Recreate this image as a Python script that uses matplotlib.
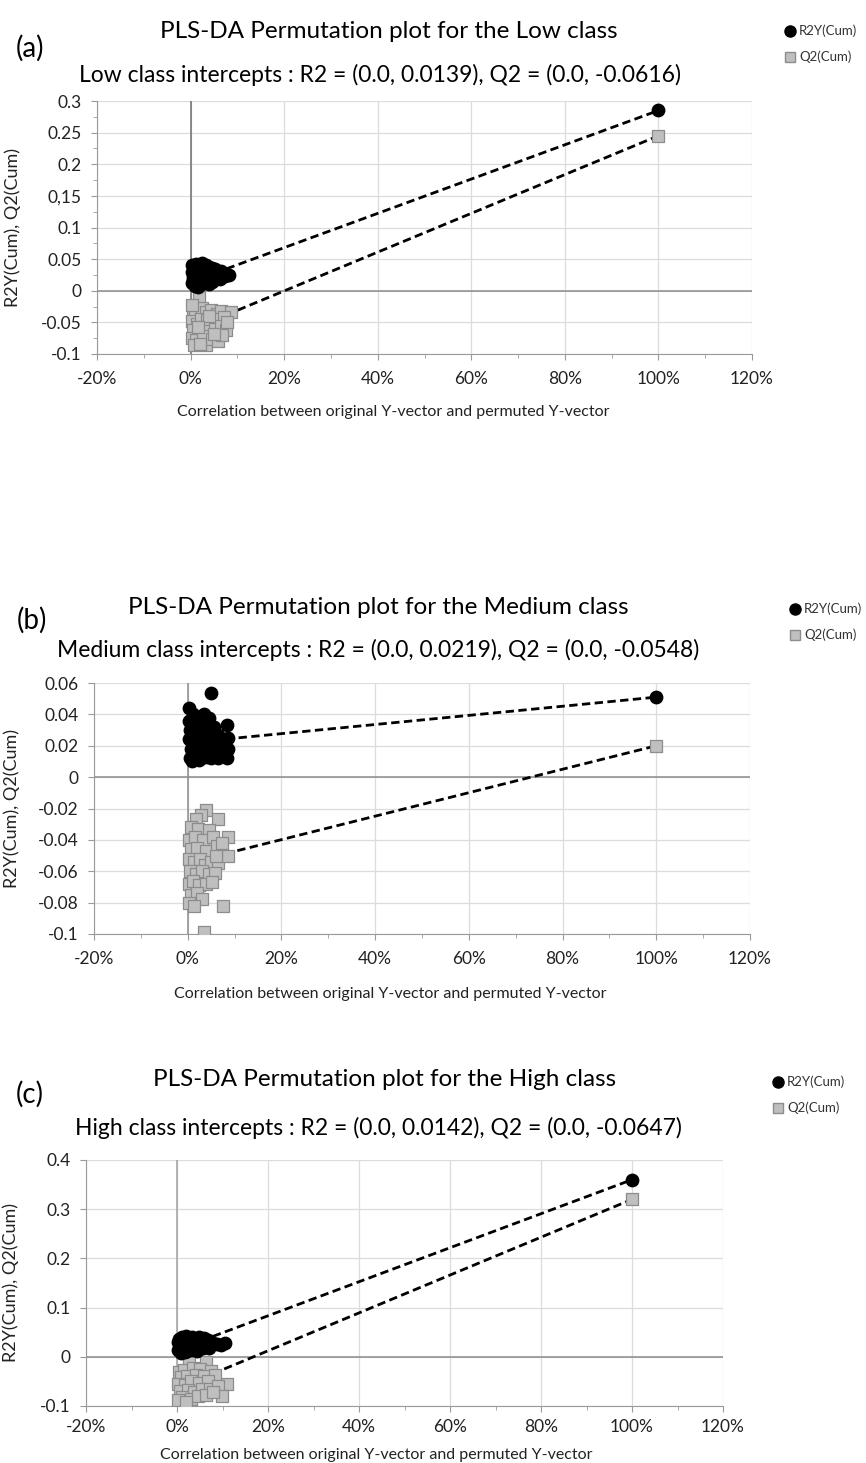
import matplotlib
matplotlib.use('agg')
import matplotlib.pyplot as plt
from matplotlib.lines import Line2D
from matplotlib.ticker import MultipleLocator

plt.rcParams['font.family'] = ['Lato', 'DejaVu Sans']

W, H = 866, 1463

panel_tags = ['(a)', '(b)', '(c)']
class_names = ['Low', 'Medium', 'High']
r2_intercepts = [0.0139, 0.0219, 0.0142]
q2_intercepts = [-0.0616, -0.0548, -0.0647]
r2_original = [0.285, 0.051, 0.36]
q2_original = [0.245, 0.020, 0.32]

x_ticks = [-20, 0, 20, 40, 60, 80, 100, 120]
x_tick_labels = ['-20%', '0%', '20%', '40%', '60%', '80%', '100%', '120%']

a_y_ticks = [-0.1, -0.05, 0, 0.05, 0.1, 0.15, 0.2, 0.25, 0.3]
a_y_tick_labels = ['-0.1', '-0.05', '0', '0.05', '0.1', '0,15', '0.2', '0.25', '0.3']
b_y_ticks = [-0.1, -0.08, -0.06, -0.04, -0.02, 0, 0.02, 0.04, 0.06]
b_y_tick_labels = ['-0.1', '-0.08', '-0.06', '-0.04', '-0.02', '0', '0.02', '0.04', '0.06']
c_y_ticks = [-0.1, 0, 0.1, 0.2, 0.3, 0.4]
c_y_tick_labels = ['-0.1', '0', '0.1', '0.2', '0.3', '0.4']

# permuted models, correlation in % and R2Y / Q2 values
a_r2_x = [0.3, 0.5, 0.4, 0.8, 1.2, 1.5, 1.9, 2.3, 2.6, 3.0, 3.4, 3.8, 4.2, 4.6, 5.0, 5.5, 6.0, 6.6, 7.3, 8.2,
          0.9, 1.6, 2.1, 2.9, 3.6, 4.5, 5.2, 6.2, 0.2, 1.1, 2.5, 3.2, 4.0, 0.6, 1.3, 2.0, 2.8, 3.9, 4.8, 7.0]
a_r2_y = [0.012, 0.022, 0.030, 0.036, 0.016, 0.028, 0.038, 0.010, 0.024, 0.034, 0.041, 0.018, 0.030, 0.036,
          0.022, 0.030, 0.026, 0.032, 0.024, 0.025, 0.008, 0.006, 0.018, 0.012, 0.026, 0.014, 0.035, 0.018,
          0.040, 0.042, 0.044, 0.020, 0.010, 0.017, 0.032, 0.026, 0.040, 0.038, 0.028, 0.028]
a_q2_x = [1.7, 0.5, 1.0, 2.5, 3.2, 4.4, 5.6, 6.6, 8.7, 0.3, 1.4, 2.2, 3.6, 4.8, 6.0, 7.2, 0.6, 1.8, 2.9,
          4.0, 5.2, 6.4, 7.5, 0.2, 1.2, 2.6, 3.4, 4.6, 5.8, 0.8, 2.0, 6.8, 3.9, 0.4, 5.0, 1.5, 7.8]
a_q2_y = [-0.010, -0.030, -0.038, -0.028, -0.034, -0.030, -0.036, -0.032, -0.034, -0.048, -0.052, -0.044,
          -0.046, -0.050, -0.045, -0.041, -0.062, -0.066, -0.058, -0.064, -0.060, -0.056, -0.062, -0.074,
          -0.078, -0.072, -0.085, -0.076, -0.080, -0.086, -0.084, -0.070, -0.040, -0.022, -0.068, -0.058,
          -0.050]

b_r2_x = [0.3, 0.2, 0.5, 0.3, 0.6, 0.4, 1.2, 1.5, 1.1, 1.8, 1.4, 2.3, 2.6, 2.1, 2.8, 2.5, 3.2, 3.5, 3.0,
          3.8, 4.9, 4.6, 4.3, 4.9, 4.4, 5.0, 5.6, 5.9, 5.5, 6.4, 6.8, 6.5, 7.3, 7.6, 8.3, 8.6, 8.5, 8.4,
          1.0, 3.4]
b_r2_y = [0.044, 0.036, 0.030, 0.024, 0.018, 0.012, 0.040, 0.032, 0.026, 0.020, 0.014, 0.036, 0.028, 0.022,
          0.016, 0.011, 0.034, 0.026, 0.019, 0.013, 0.0536, 0.038, 0.030, 0.024, 0.018, 0.012, 0.032, 0.022,
          0.015, 0.027, 0.018, 0.012, 0.024, 0.014, 0.033, 0.025, 0.018, 0.012, 0.010, 0.040]
b_q2_x = [3.8, 2.9, 1.7, 6.5, 0.6, 2.3, 4.6, 0.3, 1.5, 3.2, 5.4, 8.6, 0.8, 2.0, 4.0, 6.2, 7.4, 0.2, 1.3,
          2.7, 3.6, 5.0, 6.4, 8.6, 0.5, 1.8, 3.0, 4.5, 5.8, 0.3, 1.2, 2.4, 3.8, 5.2, 0.7, 1.9, 3.1, 0.2,
          1.4, 7.5, 3.5, 6.0]
b_q2_y = [-0.021, -0.024, -0.027, -0.027, -0.032, -0.033, -0.034, -0.040, -0.038, -0.040, -0.038, -0.038,
          -0.046, -0.045, -0.047, -0.044, -0.042, -0.052, -0.054, -0.052, -0.056, -0.054, -0.055, -0.050,
          -0.060, -0.062, -0.060, -0.062, -0.061, -0.068, -0.066, -0.069, -0.068, -0.067, -0.075, -0.074,
          -0.078, -0.080, -0.082, -0.082, -0.099, -0.050]

c_r2_x = [0.3, 0.5, 0.4, 1.0, 1.2, 1.6, 2.0, 2.3, 2.6, 3.0, 3.4, 3.8, 4.2, 4.7, 5.1, 5.6, 6.2, 6.8, 7.4,
          8.0, 8.8, 9.6, 10.6, 0.9, 1.8, 3.2, 4.5, 5.8, 0.2, 1.4, 2.8, 3.6, 4.9, 7.0, 6.0, 0.7]
c_r2_y = [0.014, 0.026, 0.036, 0.040, 0.020, 0.030, 0.042, 0.012, 0.024, 0.035, 0.040, 0.018, 0.030, 0.034,
          0.022, 0.031, 0.026, 0.034, 0.024, 0.029, 0.026, 0.024, 0.028, 0.008, 0.010, 0.014, 0.012, 0.018,
          0.030, 0.034, 0.030, 0.026, 0.040, 0.018, 0.038, 0.020]
c_q2_x = [2.6, 6.4, 0.4, 1.5, 3.5, 5.0, 7.5, 0.8, 2.2, 4.2, 6.0, 8.4, 0.3, 1.8, 3.0, 4.8, 6.8, 11.0, 0.6,
          2.4, 3.8, 5.5, 7.2, 9.0, 1.2, 3.0, 4.6, 6.3, 9.8, 0.2, 2.0, 8.0]
c_q2_y = [-0.008, -0.010, -0.030, -0.026, -0.022, -0.024, -0.028, -0.042, -0.040, -0.036, -0.040, -0.038,
          -0.055, -0.058, -0.050, -0.054, -0.050, -0.055, -0.070, -0.068, -0.072, -0.066, -0.065, -0.060,
          -0.082, -0.085, -0.080, -0.078, -0.080, -0.088, -0.092, -0.072]

fig = plt.figure(figsize=(W / 100, H / 100), dpi=100)


def box(left, top, right, bottom):
    return [left / W, 1 - bottom / H, (right - left) / W, (bottom - top) / H]


def ftext(x, y, s, **kw):
    fig.text(x / W, 1 - y / H, s, **kw)


def legend(x, y):
    fig.add_artist(Line2D([x / W], [1 - y / H], marker='o', color='black', markersize=8,
                          linestyle='none', transform=fig.transFigure))
    fig.add_artist(Line2D([x / W], [1 - (y + 26) / H], marker='s', markerfacecolor='#bfbfbf',
                          markeredgecolor='#8c8c8c', markersize=7, linestyle='none',
                          transform=fig.transFigure))
    ftext(x + 9, y, 'R2Y(Cum)', fontsize=9.5, va='center', color='#333333')
    ftext(x + 9, y + 26, 'Q2(Cum)', fontsize=9.5, va='center', color='#333333')


def draw_panel(i, rect, r2x, r2y, q2x, q2y, yticks, ylabels, ylim, yminor, zero_color,
               ylab_x, xlab_pos, xpad):
    ax = fig.add_axes(rect)
    ax.set_xlim(-20, 120)
    ax.set_ylim(*ylim)
    ax.set_xticks(x_ticks)
    ax.set_xticklabels(x_tick_labels)
    ax.set_yticks(yticks)
    ax.set_yticklabels(ylabels)
    ax.xaxis.set_minor_locator(MultipleLocator(10))
    if yminor:
        ax.yaxis.set_minor_locator(MultipleLocator(yminor))
    ax.grid(True, which='major', color='#dcdcdc', linewidth=0.9)
    ax.set_axisbelow(True)
    for s in ['top', 'right']:
        ax.spines[s].set_visible(False)
    for s in ['left', 'bottom']:
        ax.spines[s].set_color('#9a9a9a')
    ax.tick_params(which='both', direction='out', color='#9a9a9a', labelsize=12.5, labelcolor='#222222')
    ax.tick_params(which='major', length=4)
    ax.tick_params(which='minor', length=3)
    ax.tick_params(axis='y', pad=7)
    ax.tick_params(axis='x', pad=xpad)
    ax.axhline(0, color='#8c8c8c', linewidth=1.1, zorder=1)
    ax.axvline(0, color=zero_color, linewidth=1.1, zorder=1)

    ax.plot([0, 100], [r2_intercepts[i], r2_original[i]], color='black', linestyle=(0, (3, 1.6)),
            linewidth=2, zorder=2)
    ax.plot([0, 100], [q2_intercepts[i], q2_original[i]], color='black', linestyle=(0, (3, 1.6)),
            linewidth=2, zorder=2)
    ax.scatter(q2x + [100], q2y + [q2_original[i]], marker='s', s=70, facecolor='#bfbfbf',
               edgecolor='#8c8c8c', linewidth=0.9, zorder=3)
    ax.scatter(r2x + [100], r2y + [r2_original[i]], marker='o', s=80, color='black', zorder=4)

    left = rect[0] * W
    width = rect[2] * W
    height = rect[3] * H
    bottom = (1 - rect[1]) * H
    ax.set_ylabel('R2Y(Cum), Q2(Cum)', fontsize=13, color='#222222')
    ax.yaxis.set_label_coords((ylab_x - left) / width, 0.5)
    ax.set_xlabel('Correlation between original Y-vector and permuted Y-vector', fontsize=11.5,
                  color='#222222')
    ax.xaxis.set_label_coords((xlab_pos[0] - left) / width, (bottom - xlab_pos[1]) / height)
    return ax


# (a) Low
draw_panel(0, box(97, 101, 752, 354), a_r2_x, a_r2_y, a_q2_x, a_q2_y,
           a_y_ticks, a_y_tick_labels, (-0.1, 0.3), 0.025, '#6e6e6e', 21, (393, 405), 8)
ftext(30, 48, panel_tags[0], fontsize=20, ha='center', va='center')
ftext(389, 32, 'PLS-DA Permutation plot for the ' + class_names[0] + ' class', fontsize=17.5,
      ha='center', va='center')
ftext(380, 75, 'Low class intercepts : R2 = (0.0, 0.0139), Q2 = (0.0, -0.0616)', fontsize=16.5,
      ha='center', va='center')
legend(790, 31)

# (b) Medium
draw_panel(1, box(94, 683, 750, 934), b_r2_x, b_r2_y, b_q2_x, b_q2_y,
           b_y_ticks, b_y_tick_labels, (-0.1, 0.06), None, '#8c8c8c', 20, (390, 987), 8)
ftext(32, 620, panel_tags[1], fontsize=20, ha='center', va='center')
ftext(378, 607, 'PLS-DA Permutation plot for the ' + class_names[1] + ' class', fontsize=17.5,
      ha='center', va='center')
ftext(378, 650, 'Medium class intercepts : R2 = (0.0, 0.0219), Q2 = (0.0, -0.0548)', fontsize=16.5,
      ha='center', va='center')
legend(795, 609)

# (c) High
draw_panel(2, box(86, 1160, 723, 1406), c_r2_x, c_r2_y, c_q2_x, c_q2_y,
           c_y_ticks, c_y_tick_labels, (-0.1, 0.4), None, '#a0a0a0', 19, (376, 1448), 5)
ftext(30, 1094, panel_tags[2], fontsize=20, ha='center', va='center')
ftext(385, 1080, 'PLS-DA Permutation plot for the ' + class_names[2] + ' class', fontsize=17.5,
      ha='center', va='center')
ftext(378, 1128, 'High class intercepts : R2 = (0.0, 0.0142), Q2 = (0.0, -0.0647)', fontsize=16.5,
      ha='center', va='center')
legend(778, 1082)

fig.savefig('out.png', dpi=100)
